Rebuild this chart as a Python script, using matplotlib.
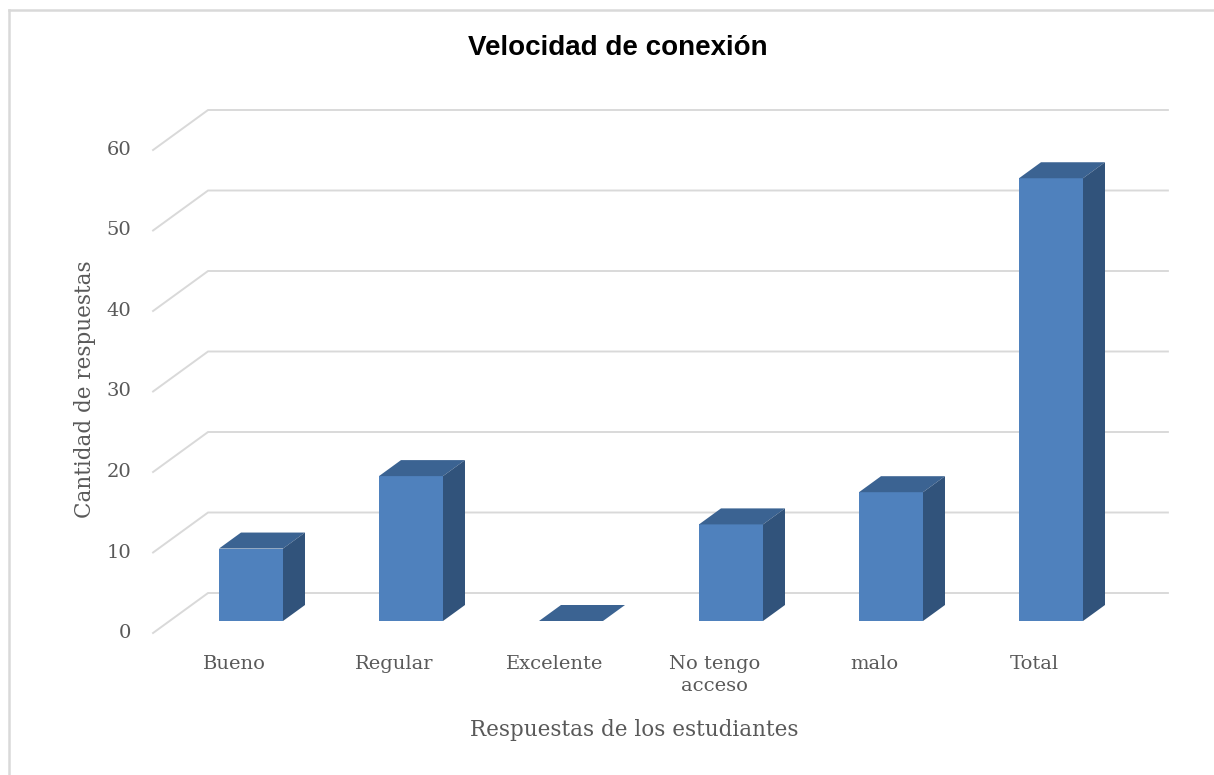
import matplotlib
matplotlib.use('Agg')
import matplotlib.pyplot as plt
from matplotlib.patches import Polygon

# data
categorias = ['Bueno', 'Regular', 'Excelente', 'No tengo\nacceso', 'malo', 'Total']
respuestas = [9, 18, 0, 12, 16, 55]
y_ticks = [0, 10, 20, 30, 40, 50, 60]

color_front = '#4f81bd'
color_top = '#3b6392'
color_side = '#31537b'
grid_color = '#d9d9d9'
text_color = '#595959'

W, H = 1214, 775
fig = plt.figure(figsize=(W / 100, H / 100), dpi=100)
ax = fig.add_axes([0, 0, 1, 1])

# front plane of the bars: category i centred at pixel 251 + 160 i, value 0 at pixel row 621
PX0, PXU = 251, 160
PY0, PYU = 621, 8.05
ax.set_xlim((0 - PX0) / PXU, (W - PX0) / PXU)
ax.set_ylim((PY0 - H) / PYU, PY0 / PYU)
ax.axis('off')

# oblique depth (full floor depth), bars sit between d=0.3 and d=0.7
DX = 55 / PXU
DY = 40 / PYU
D_FRONT, D_BACK = 0.3, 0.7


def proj(x, v, d):
    return (x + DX * (d - D_FRONT), v + DY * (d - D_FRONT))


floor_left, floor_right = -0.509, 5.49

# gridlines: back wall + oblique side
for v in y_ticks:
    pts = [proj(floor_left, v, 0), proj(floor_left, v, 1), proj(floor_right, v, 1)]
    ax.plot([p[0] for p in pts], [p[1] for p in pts], color=grid_color, lw=1.4,
            solid_joinstyle='miter', zorder=1)
    lx, ly = proj(floor_left, v, 0)
    ax.text(lx - 22 / PXU, ly, str(v), ha='right', va='center', fontsize=14,
            family='DejaVu Serif', color=text_color)

bar_w = 0.4
xs = list(range(len(categorias)))
ax.bar(xs, respuestas, width=bar_w, color=color_front, zorder=3)

for x, v in zip(xs, respuestas):
    l, r = x - bar_w / 2, x + bar_w / 2
    top = [proj(l, v, D_FRONT), proj(r, v, D_FRONT), proj(r, v, D_BACK), proj(l, v, D_BACK)]
    ax.add_patch(Polygon(top, closed=True, facecolor=color_top, edgecolor='none', zorder=3))
    if v > 0:
        side = [proj(r, 0, D_FRONT), proj(r, v, D_FRONT), proj(r, v, D_BACK), proj(r, 0, D_BACK)]
        ax.add_patch(Polygon(side, closed=True, facecolor=color_side, edgecolor='none', zorder=3))

    lx, ly = proj(x, 0, 0)
    ax.text(lx, ly - 22 / PYU, categorias[x], ha='center', va='top', fontsize=14,
            family='DejaVu Serif', color=text_color, linespacing=1.3)

fig.text(618 / W, 1 - 48 / H, 'Velocidad de conexión', ha='center', va='center',
         fontsize=20, fontweight='bold', family='Liberation Sans', color='black')
fig.text(634 / W, 1 - 730 / H, 'Respuestas de los estudiantes', ha='center', va='center',
         fontsize=15.5, family='DejaVu Serif', color=text_color)
fig.text(85 / W, 1 - 389 / H, 'Cantidad de respuestas', ha='center', va='center', rotation=90,
         fontsize=15.5, family='DejaVu Serif', color=text_color)

# chart border (top and left visible)
fig.add_artist(plt.Line2D([9 / W, 9 / W], [0, 1 - 10 / H], color=grid_color, lw=1.8))
fig.add_artist(plt.Line2D([9 / W, 1], [1 - 10 / H, 1 - 10 / H], color=grid_color, lw=1.8))

fig.savefig('out.png', dpi=100, facecolor='white')
